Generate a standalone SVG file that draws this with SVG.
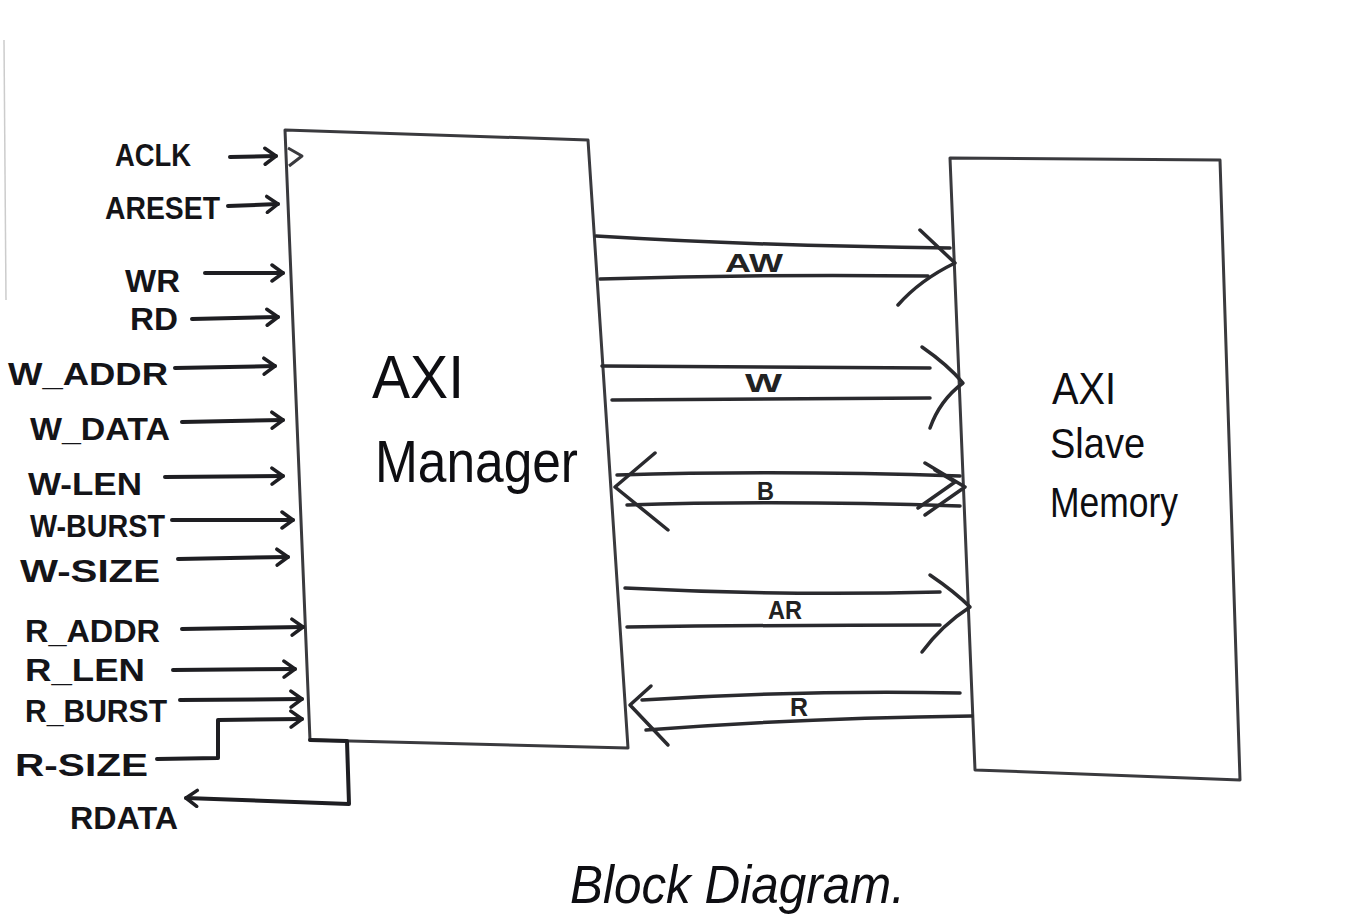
<svg xmlns="http://www.w3.org/2000/svg" width="1361" height="921" viewBox="0 0 1361 921">
<defs>
<style>
.box{fill:none;stroke:#3a3a3e;stroke-width:3;stroke-linejoin:round}
.ln{fill:none;stroke:#1e1e22;stroke-width:4;stroke-linecap:round;stroke-linejoin:round}
.ch{fill:none;stroke:#2a2a2e;stroke-width:3.5;stroke-linecap:round;stroke-linejoin:round}
.lbl{font-family:"Liberation Sans",Arial,sans-serif;font-weight:bold;font-size:32px;fill:#141418}
.clab{font-family:"Liberation Sans",Arial,sans-serif;font-weight:bold;font-size:26px;fill:#222}
.big{font-family:"Liberation Sans",Arial,sans-serif;fill:#0e0e12}
</style>
<marker id="ah" markerWidth="18" markerHeight="20" refX="14" refY="10" orient="auto" markerUnits="userSpaceOnUse">
<path d="M3,2 L14,10 L3,18" fill="none" stroke="#1e1e22" stroke-width="3.5" stroke-linecap="round" stroke-linejoin="round"/>
</marker>
</defs>
<rect width="1361" height="921" fill="#ffffff"/>
<line x1="4" y1="40" x2="6" y2="300" stroke="#ccc" stroke-width="1.5"/>

<g id="manager">
<polygon class="box" points="285,130 588,140 628,748 310,740"/>
<polyline class="box" points="288,148 302,156 289,166"/>
<text class="big" x="372" y="398" font-size="62" textLength="92" lengthAdjust="spacingAndGlyphs">AXI</text>
<text class="big" x="375" y="482" font-size="60" textLength="203" lengthAdjust="spacingAndGlyphs">Manager</text>
</g>

<g id="slave">
<polygon class="box" points="950,158 1220,160 1240,780 975,770"/>
<text class="big" x="1052" y="404" font-size="44" textLength="64" lengthAdjust="spacingAndGlyphs">AXI</text>
<text class="big" x="1050" y="458" font-size="42" textLength="95" lengthAdjust="spacingAndGlyphs">Slave</text>
<text class="big" x="1050" y="517" font-size="42" textLength="128" lengthAdjust="spacingAndGlyphs">Memory</text>
</g>

<g id="labels">
<text class="lbl" x="115" y="166" textLength="76" lengthAdjust="spacingAndGlyphs">ACLK</text>
<text class="lbl" x="105" y="219" textLength="115" lengthAdjust="spacingAndGlyphs">ARESET</text>
<text class="lbl" x="125" y="292" textLength="55" lengthAdjust="spacingAndGlyphs">WR</text>
<text class="lbl" x="130" y="330" textLength="48" lengthAdjust="spacingAndGlyphs">RD</text>
<text class="lbl" x="8" y="385" textLength="160" lengthAdjust="spacingAndGlyphs">W_ADDR</text>
<text class="lbl" x="30" y="440" textLength="140" lengthAdjust="spacingAndGlyphs">W_DATA</text>
<text class="lbl" x="28" y="495" textLength="114" lengthAdjust="spacingAndGlyphs">W-LEN</text>
<text class="lbl" x="30" y="537" textLength="135" lengthAdjust="spacingAndGlyphs">W-BURST</text>
<text class="lbl" x="20" y="582" textLength="140" lengthAdjust="spacingAndGlyphs">W-SIZE</text>
<text class="lbl" x="25" y="642" textLength="135" lengthAdjust="spacingAndGlyphs">R_ADDR</text>
<text class="lbl" x="25" y="681" textLength="120" lengthAdjust="spacingAndGlyphs">R_LEN</text>
<text class="lbl" x="25" y="722" textLength="142" lengthAdjust="spacingAndGlyphs">R_BURST</text>
<text class="lbl" x="15" y="776" textLength="133" lengthAdjust="spacingAndGlyphs">R-SIZE</text>
<text class="lbl" x="70" y="829" textLength="108" lengthAdjust="spacingAndGlyphs">RDATA</text>
</g>

<g id="connectors">
<line class="ln" x1="230" y1="157" x2="276" y2="156" marker-end="url(#ah)"/>
<line class="ln" x1="228" y1="206" x2="278" y2="204" marker-end="url(#ah)"/>
<line class="ln" x1="205" y1="273" x2="283" y2="273" marker-end="url(#ah)"/>
<line class="ln" x1="192" y1="319" x2="278" y2="317" marker-end="url(#ah)"/>
<line class="ln" x1="175" y1="368" x2="275" y2="366" marker-end="url(#ah)"/>
<line class="ln" x1="182" y1="422" x2="283" y2="420" marker-end="url(#ah)"/>
<line class="ln" x1="165" y1="477" x2="283" y2="476" marker-end="url(#ah)"/>
<line class="ln" x1="172" y1="520" x2="293" y2="520" marker-end="url(#ah)"/>
<line class="ln" x1="178" y1="559" x2="288" y2="557" marker-end="url(#ah)"/>
<line class="ln" x1="182" y1="629" x2="303" y2="627" marker-end="url(#ah)"/>
<line class="ln" x1="173" y1="670" x2="295" y2="669" marker-end="url(#ah)"/>
<line class="ln" x1="180" y1="700" x2="302" y2="699" marker-end="url(#ah)"/>
<polyline class="ln" points="157,759 218,758 218,720 302,719" marker-end="url(#ah)"/>
<polyline class="ln" points="310,740 347,741 349,804 186,798" marker-end="url(#ah)"/>

<!-- AW -->
<path class="ch" d="M596,236 Q760,246 950,248"/>
<path class="ch" d="M600,279 Q760,274 928,276"/>
<path class="ch" d="M920,230 L955,263 Q920,280 898,305"/>
<text class="clab" x="725" y="272" font-size="28" textLength="58" lengthAdjust="spacingAndGlyphs">AW</text>
<!-- W -->
<path class="ch" d="M602,366 L930,368"/>
<path class="ch" d="M612,400 L930,398"/>
<path class="ch" d="M922,347 Q948,365 963,383 Q940,400 930,428"/>
<text class="clab" x="745" y="392" textLength="37" lengthAdjust="spacingAndGlyphs">W</text>
<!-- B -->
<path class="ch" d="M617,475 Q780,470 960,476"/>
<path class="ch" d="M627,505 Q780,500 960,506"/>
<path class="ch" d="M655,453 L615,487 L668,530"/>
<path class="ch" d="M925,463 L965,487 L925,515"/>
<path class="ch" d="M935,470 L955,482 L918,508"/>
<text class="clab" x="757" y="500" textLength="17" lengthAdjust="spacingAndGlyphs">B</text>
<!-- AR -->
<path class="ch" d="M625,588 Q780,596 940,592"/>
<path class="ch" d="M627,627 Q780,625 940,625"/>
<path class="ch" d="M930,575 Q955,592 970,607 Q942,625 922,652"/>
<text class="clab" x="768" y="619" textLength="34" lengthAdjust="spacingAndGlyphs">AR</text>
<!-- R -->
<path class="ch" d="M642,700 Q800,690 960,693"/>
<path class="ch" d="M646,730 Q800,718 972,716"/>
<path class="ch" d="M651,686 L630,705 L668,745"/>
<text class="clab" x="790" y="716" textLength="18" lengthAdjust="spacingAndGlyphs">R</text>
</g>

<g id="title">
<text class="big" x="570" y="903" font-size="54" font-style="italic" textLength="335" lengthAdjust="spacingAndGlyphs">Block Diagram.</text>
</g>
</svg>
